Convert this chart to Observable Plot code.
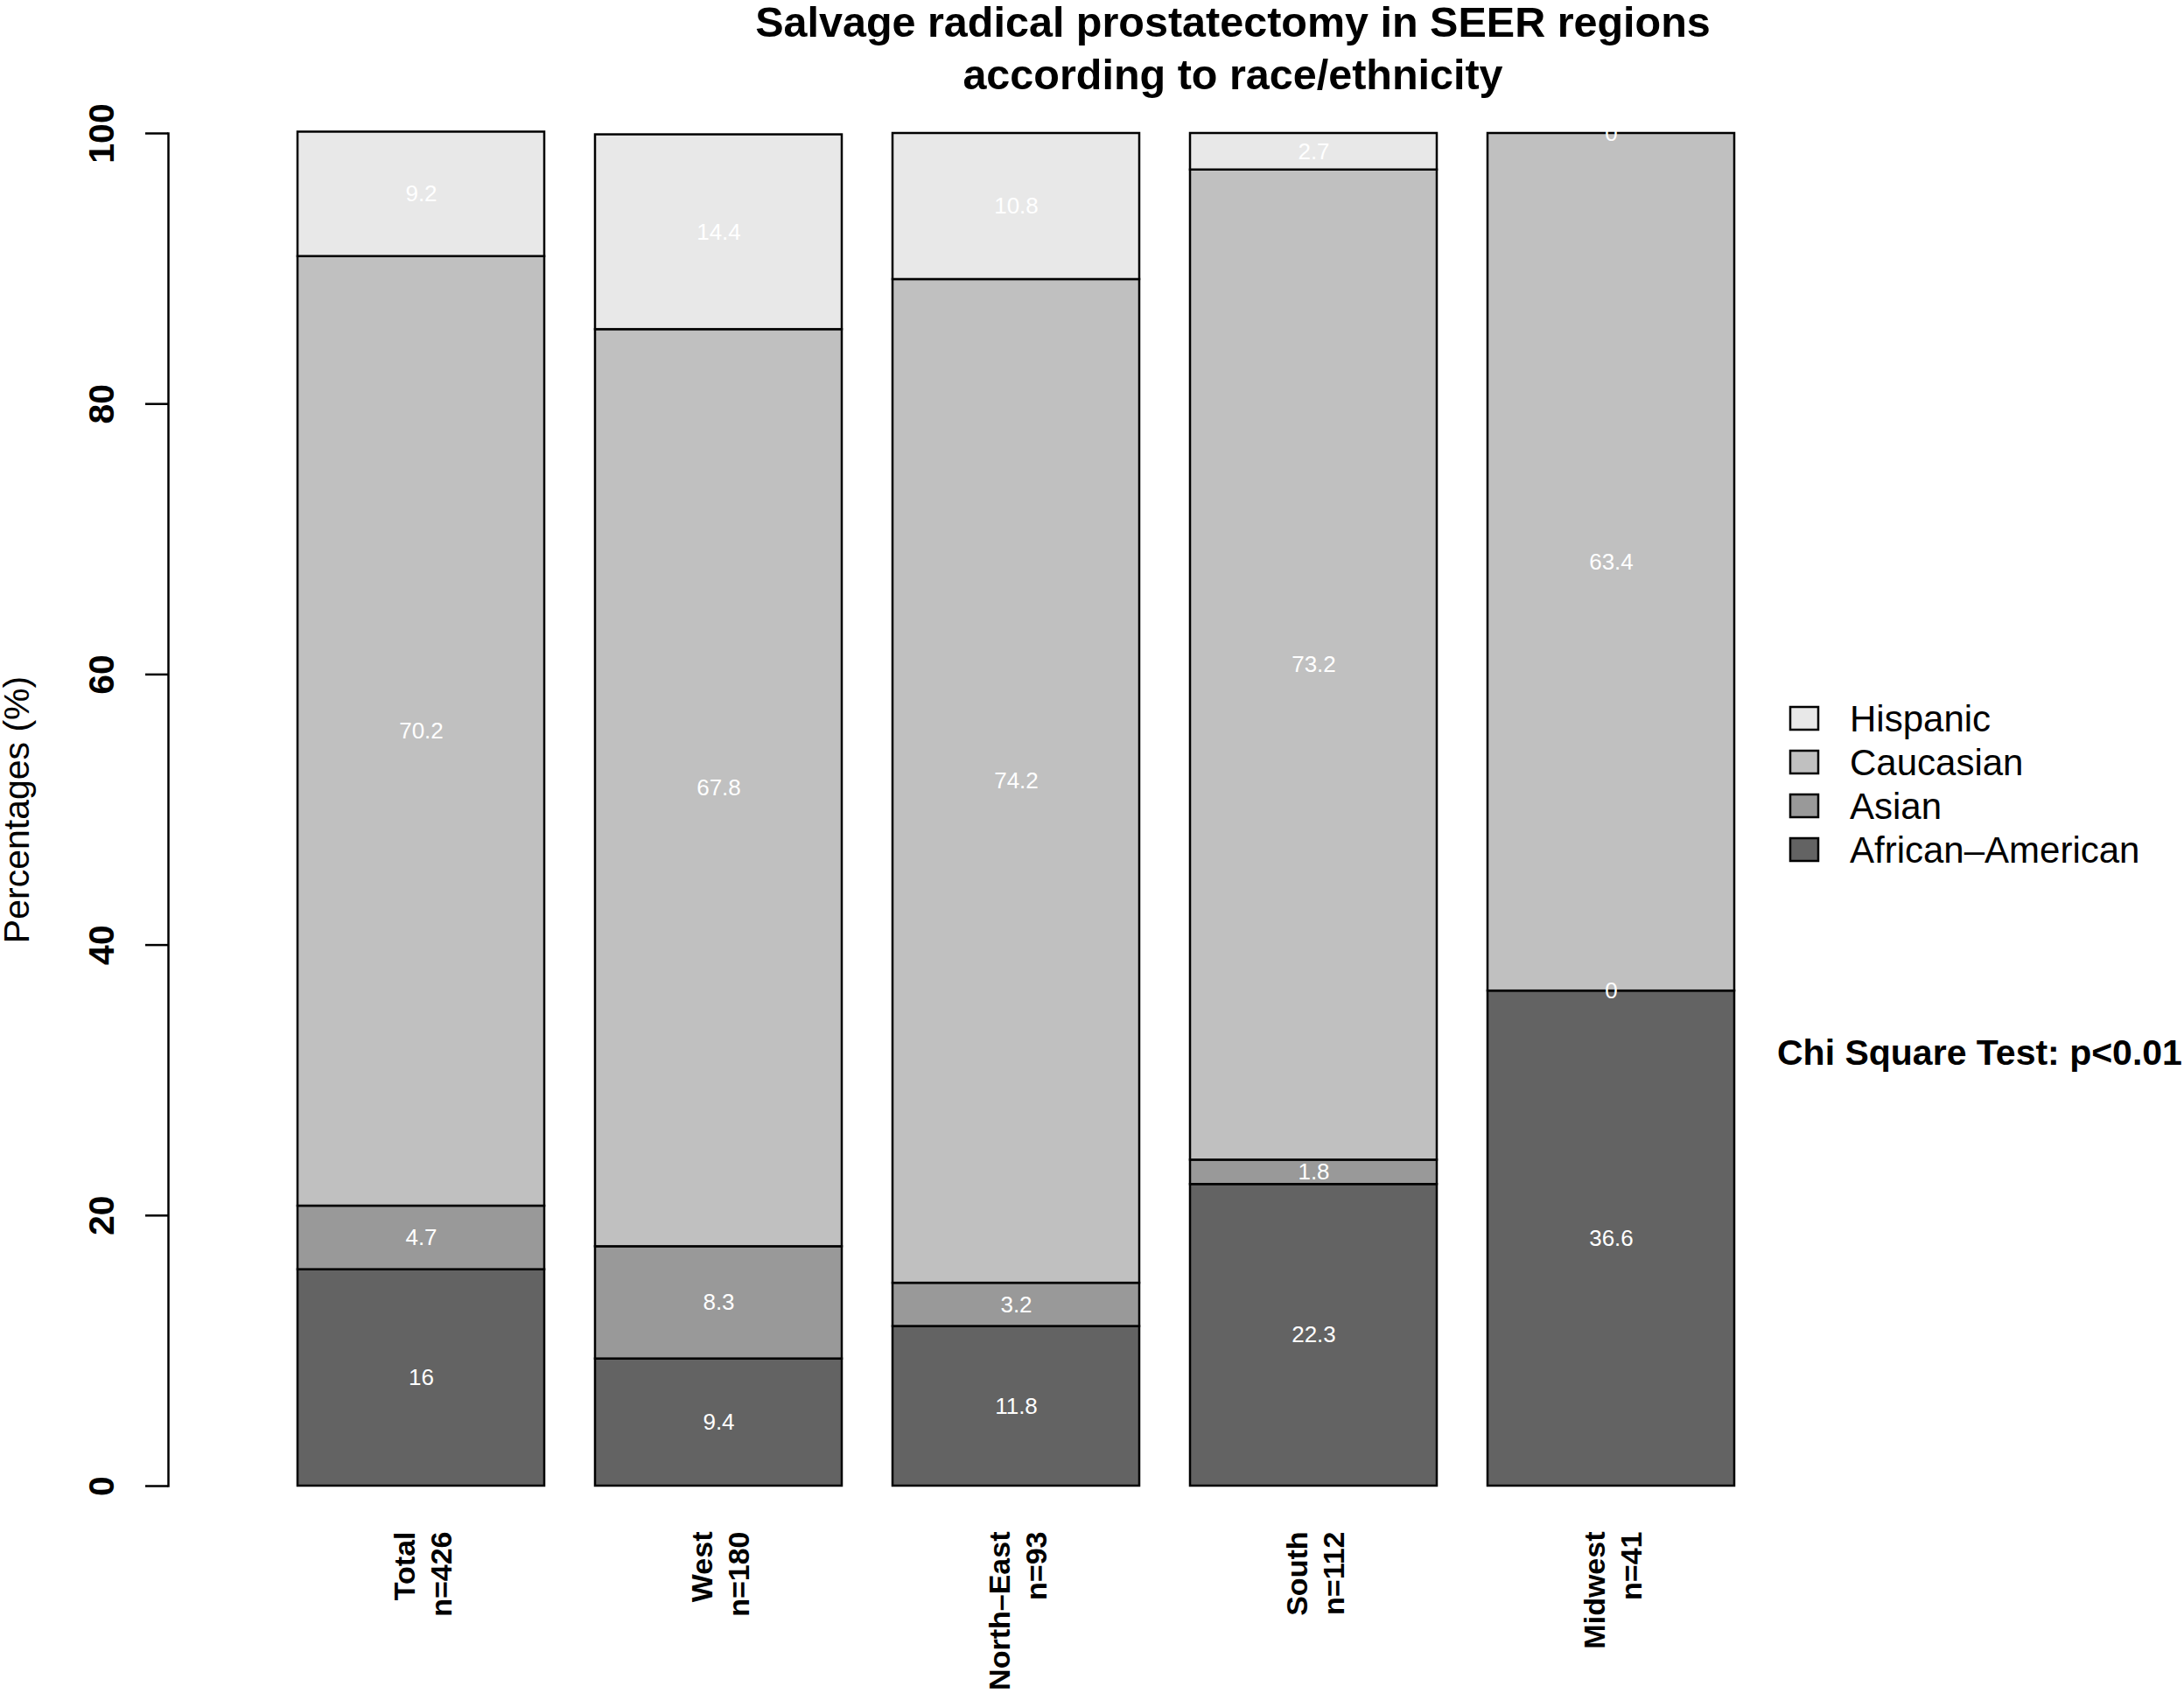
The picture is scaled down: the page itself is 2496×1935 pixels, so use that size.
<!DOCTYPE html>
<html><head><meta charset="utf-8">
<script src="https://cdn.jsdelivr.net/npm/d3@7"></script>
<script src="https://cdn.jsdelivr.net/npm/@observablehq/plot@0.6"></script>
<style>body{margin:0;background:#fff;} svg{display:block}</style>
</head><body><div id="chart"></div>
<script>
// ---- data ----
const regions = ["Total", "West", "North–East", "South", "Midwest"];
const sampleSizes = [426, 180, 93, 112, 41];
const races = ["African–American", "Asian", "Caucasian", "Hispanic"]; // bottom to top
const africanAmerican = [16, 9.4, 11.8, 22.3, 36.6];
const asian = [4.7, 8.3, 3.2, 1.8, 0];
const caucasian = [70.2, 67.8, 74.2, 73.2, 63.4];
const hispanic = [9.2, 14.4, 10.8, 2.7, 0];
const raceColors = ["#636363", "#999999", "#c0c0c0", "#e8e8e8"];
const yTicks = [0, 20, 40, 60, 80, 100];
const titleLines = ["Salvage radical prostatectomy in SEER regions", "according to race/ethnicity"];
const yLabel = "Percentages (%)";
const legendOrder = ["Hispanic", "Caucasian", "Asian", "African–American"];
const note = "Chi Square Test: p<0.01";

const series = [africanAmerican, asian, caucasian, hispanic];
const rows = [];
regions.forEach((r, i) => {
  races.forEach((race, j) => rows.push({region: r, race, value: series[j][i]}));
});
const xLabels = regions.map((r, i) => ({region: r, label: `${r}\nn=${sampleSizes[i]}`}));

const FONT = "'Liberation Sans', Helvetica, Arial, sans-serif";
const W = 2496, H = 1935;

const chart = Plot.plot({
  width: W, height: H,
  marginTop: 152, marginBottom: 237, marginLeft: 192, marginRight: 0,
  style: {fontFamily: FONT, background: "#fff", overflow: "visible"},
  x: {domain: regions, range: [339, 1983], paddingInner: 0.17, paddingOuter: 0, axis: null},
  y: {domain: [0, 100], axis: null},
  color: {domain: races, range: raceColors},
  marks: [
    Plot.barY(rows, {x: "region", y: "value", z: "race", fill: "race", stroke: "black", strokeWidth: 2.5}),
    Plot.text(rows, Plot.stackY({x: "region", y: "value", z: "race", text: d => String(d.value), fill: "white", fontSize: 26})),
    // y axis
    Plot.frame({anchor: "left", stroke: "black", strokeWidth: 2.5}),
    Plot.axisY(yTicks, {tickSize: 26, tickFormat: () => "", stroke: "black", strokeWidth: 2.5, label: null}),
    Plot.text(yTicks, {y: d => d, text: d => String(d), frameAnchor: "left", dx: -76, rotate: -90, textAnchor: "middle", lineAnchor: "middle", fontWeight: "bold", fontSize: 41, fill: "black"}),
    Plot.text([yLabel], {text: d => d, frameAnchor: "left", dx: -173, rotate: -90, textAnchor: "middle", lineAnchor: "middle", fontSize: 41, fill: "black"}),
    // x labels
    Plot.text(xLabels, {x: "region", text: "label", frameAnchor: "bottom", dy: 52, rotate: -90, textAnchor: "end", lineAnchor: "middle", lineHeight: 1.25, fontWeight: "bold", fontSize: 34, fill: "black"})
  ]
});
document.getElementById("chart").appendChild(chart);

// ---- annotations: title, legend, note ----
const svg = d3.select(chart);
const g = svg.append("g").attr("font-family", FONT).attr("text-anchor", "start");
titleLines.forEach((t, i) => {
  g.append("text").attr("x", 1409).attr("y", 42 + i * 60).attr("text-anchor", "middle")
    .attr("font-weight", "bold").attr("font-size", 48.5).attr("fill", "black").text(t);
});
const colorOf = Object.fromEntries(races.map((r, i) => [r, raceColors[i]]));
legendOrder.forEach((r, i) => {
  const cy = 821 + i * 50;
  g.append("rect").attr("x", 2046).attr("y", cy - 13).attr("width", 32).attr("height", 26)
    .attr("fill", colorOf[r]).attr("stroke", "black").attr("stroke-width", 2.5);
  g.append("text").attr("x", 2114).attr("y", cy).attr("dy", "0.36em").attr("text-anchor", "start")
    .attr("font-size", 42).attr("fill", "black").text(r);
});
g.append("text").attr("x", 2031).attr("y", 1217).attr("font-weight", "bold").attr("text-anchor", "start")
  .attr("font-size", 41).attr("fill", "black").text(note);
</script>
</body></html>
